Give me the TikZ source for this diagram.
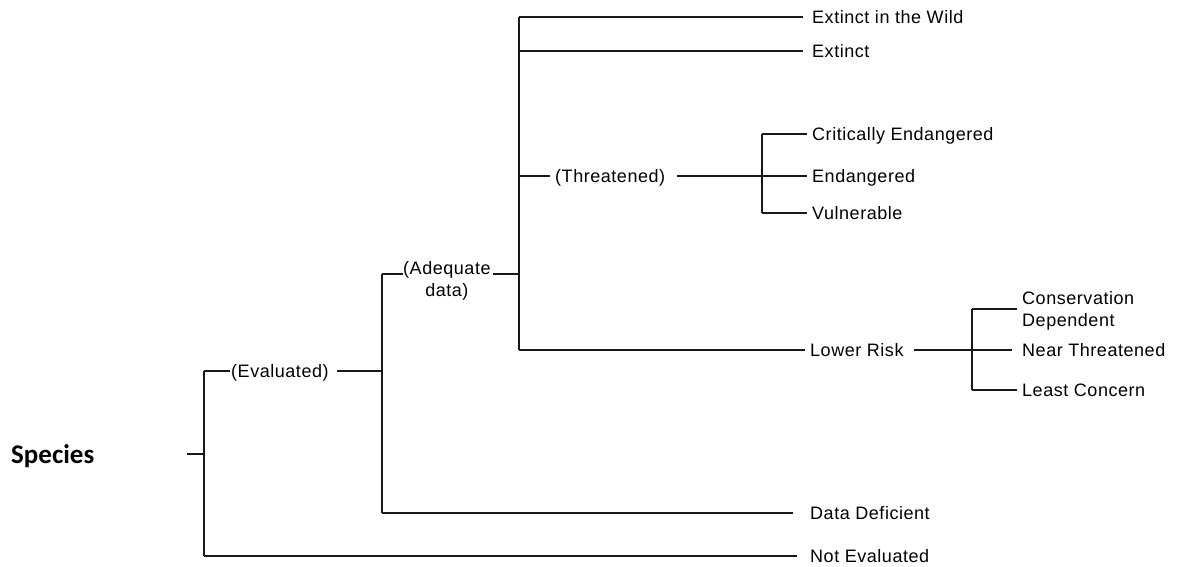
\documentclass[tikz,border=0pt]{standalone}
\usepackage{fontspec}
\setmainfont{Liberation Sans}[LetterSpace=3.0]
\newfontfamily\spfont{Carlito}
\newcommand{\lblfont}{\fontsize{18pt}{22pt}\selectfont}
\begin{document}
\begin{tikzpicture}[x=1pt,y=-1pt,
  lbl/.style={anchor=west, inner sep=0pt, text height=13pt, text depth=0pt, font=\lblfont},
  two/.style={anchor=base west, inner sep=0pt, font=\lblfont},
  br/.style={line width=1.3pt, draw=black!90}]
\useasboundingbox (0,0) rectangle (1183,566);
% branch columns
\coordinate (vA) at (204,0);
\coordinate (vB) at (382,0);
\coordinate (vC) at (519,0);
\coordinate (vD) at (762,0);
\coordinate (vE) at (972,0);
% labels
\node[anchor=base west, inner sep=0pt, font=\spfont\bfseries\fontsize{27pt}{30pt}\selectfont] (sp) at (11,463) {Species};
\node[lbl] (ev) at (231,371) {(Evaluated)};
\node[two] (adq) at (403,274) {\begin{tabular}[t]{@{}c@{}}(Adequate\\data)\end{tabular}};
\node[lbl] (eiw) at (812,17) {Extinct in the Wild};
\node[lbl] (ext) at (812,51) {Extinct};
\node[lbl] (thr) at (555,176) {(Threatened)};
\node[lbl] (ce) at (812,134) {Critically Endangered};
\node[lbl] (en) at (812,176) {Endangered};
\node[lbl] (vu) at (812,213) {Vulnerable};
\node[lbl] (lr) at (810,350) {Lower Risk};
\node[two] (cd) at (1022,304) {\begin{tabular}[t]{@{}l@{}}Conservation\\Dependent\end{tabular}};
\node[lbl] (nt) at (1022,350) {Near Threatened};
\node[lbl] (lc) at (1022,390) {Least Concern};
\node[lbl] (dd) at (810,513) {Data Deficient};
\node[lbl] (ne) at (810,556) {Not Evaluated};
% root tick
\coordinate (rt) at (187,454);
\draw[br] (rt) -- (rt -| vA);
% level A
\draw[br] (ev.west -| vA) -- (ne.west -| vA);
\draw[br, shorten >=1pt] (ev.west -| vA) -- (ev.west);
\draw[br] ([xshift=8pt]ev.east) -- (ev.east -| vB);
\draw[br, shorten >=13pt] (ne.west -| vA) -- (ne.west);
% level B
\draw[br] (adq.base west -| vB) -- (dd.west -| vB);
\draw[br] (adq.base west -| vB) -- (adq.base west);
\draw[br] ([xshift=2pt]adq.base east) -- (adq.base east -| vC);
\draw[br, shorten >=17pt] (dd.west -| vB) -- (dd.west);
% level C
\draw[br] (eiw.west -| vC) -- (lr.west -| vC);
\draw[br, shorten >=9pt] (eiw.west -| vC) -- (eiw.west);
\draw[br, shorten >=9pt] (ext.west -| vC) -- (ext.west);
\draw[br, shorten >=5pt] (thr.west -| vC) -- (thr.west);
\draw[br, shorten >=5pt] (lr.west -| vC) -- (lr.west);
% threatened
\draw[br] ([xshift=12pt]thr.east) -- ([xshift=-5pt]en.west);
\draw[br] (ce.west -| vD) -- (vu.west -| vD);
\draw[br, shorten >=5pt] (ce.west -| vD) -- (ce.west);
\draw[br, shorten >=5pt] (vu.west -| vD) -- (vu.west);
% lower risk
\coordinate (cdj) at ([yshift=-5pt]cd.base west);
\draw[br] ([xshift=10pt]lr.east) -- ([xshift=-10pt]nt.west);
\draw[br] (cdj -| vE) -- (lc.west -| vE);
\draw[br, shorten >=5pt] (cdj -| vE) -- (cdj);
\draw[br, shorten >=5pt] (lc.west -| vE) -- (lc.west);
\end{tikzpicture}
\end{document}
